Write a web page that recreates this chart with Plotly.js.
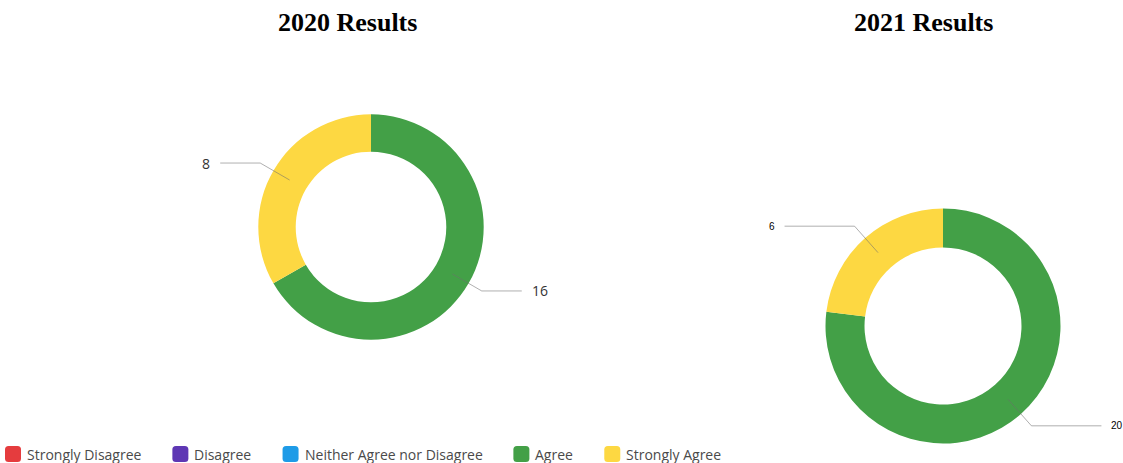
<!DOCTYPE html>
<html>
<head>
<meta charset="utf-8">
<script src="https://cdn.plot.ly/plotly-3.0.1.min.js"></script>
<style>
  html, body { margin: 0; padding: 0; background: #fff; }
  #chart { width: 1123px; height: 463px; }
</style>
</head>
<body>
<div id="chart"></div>
<script>
// ---- data ----
const categories = ["Strongly Disagree", "Disagree", "Neither Agree nor Disagree", "Agree", "Strongly Agree"];
const colors = ["#e53c3e", "#5e37b4", "#1e9be7", "#43a047", "#fdd842"];
const values2020 = [0, 0, 0, 16, 8];
const values2021 = [0, 0, 0, 20, 6];
const titles = ["2020 Results", "2021 Results"];

// ---- layout geometry (pixels) ----
const W = 1123, H = 463;
const hole = 0.668;
const pies = [
  { values: values2020, cx: 371, cy: 227, R: 112.7, title: titles[0], tx: 347, lineLen: 40, fontSize: 14, fontColor: "#333", fontFamily: "Open Sans, sans-serif" },
  { values: values2021, cx: 943, cy: 326, R: 117.5, title: titles[1], tx: 923, lineLen: 70, fontSize: 10, fontColor: "#000", fontFamily: "Liberation Sans, Arial, sans-serif" }
];
const px = x => x / W;
const py = y => 1 - y / H;

const data = [];
const shapes = [];
const annotations = [];

pies.forEach((p, i) => {
  data.push({
    type: "pie",
    labels: categories,
    values: p.values,
    marker: { colors: colors, line: { width: 0 } },
    hole: hole,
    sort: false,
    direction: "clockwise",
    rotation: 0,
    textinfo: "none",
    hoverinfo: "label+value",
    showlegend: false,
    domain: {
      x: [px(p.cx - p.R), px(p.cx + p.R)],
      y: [py(p.cy + p.R), py(p.cy - p.R)]
    }
  });

  // leader lines + value labels, derived from the data
  const total = p.values.reduce((a, b) => a + b, 0);
  let cum = 0;
  p.values.forEach(v => {
    if (v <= 0) return;
    const theta = 2 * Math.PI * (cum + v / 2) / total;
    cum += v;
    const dx = Math.sin(theta), dy = -Math.cos(theta);
    const r1 = p.R * (1 + hole) / 2, r2 = p.R * 1.135;
    const x1 = p.cx + dx * r1, y1 = p.cy + dy * r1;
    const x2 = p.cx + dx * r2, y2 = p.cy + dy * r2;
    const side = dx >= 0 ? 1 : -1;
    const x3 = x2 + side * p.lineLen;
    shapes.push({
      type: "path", xref: "paper", yref: "paper",
      path: `M${px(x1)},${py(y1)} L${px(x2)},${py(y2)} L${px(x3)},${py(y2)}`,
      line: { color: "rgba(110,110,110,0.55)", width: 1 }
    });
    annotations.push({
      xref: "paper", yref: "paper",
      x: px(x3 + side * 8), y: py(y2),
      xanchor: side > 0 ? "left" : "right", yanchor: "middle",
      text: String(v), showarrow: false,
      font: { size: p.fontSize, color: p.fontColor, family: p.fontFamily }
    });
  });

  annotations.push({
    xref: "paper", yref: "paper",
    x: px(p.tx), y: py(22), xanchor: "center", yanchor: "middle",
    text: "<b>" + p.title + "</b>", showarrow: false,
    font: { size: 26, color: "#000", family: "Liberation Serif, Times New Roman, serif" }
  });
});

// ---- legend (built from categories / colors) ----
const legendFont = { size: 14, color: "#4a4a4a", family: "Open Sans, sans-serif" };
const ctx = document.createElement("canvas").getContext("2d");
ctx.font = "14px 'Open Sans'";
let lx = 5;
const ly = 454, sq = 16, rr = 3.5;
categories.forEach((c, k) => {
  const x0 = lx, x1 = lx + sq, y0 = ly - sq / 2, y1 = ly + sq / 2;
  const P = (x, y) => `${px(x)},${py(y)}`;
  const path = `M${P(x0 + rr, y0)} L${P(x1 - rr, y0)} Q${P(x1, y0)} ${P(x1, y0 + rr)} L${P(x1, y1 - rr)} Q${P(x1, y1)} ${P(x1 - rr, y1)} L${P(x0 + rr, y1)} Q${P(x0, y1)} ${P(x0, y1 - rr)} L${P(x0, y0 + rr)} Q${P(x0, y0)} ${P(x0 + rr, y0)} Z`;
  shapes.push({ type: "path", xref: "paper", yref: "paper", path: path, fillcolor: colors[k], line: { width: 0 } });
  const tx = lx + 22;
  annotations.push({
    xref: "paper", yref: "paper", x: px(tx), y: py(ly), xanchor: "left", yanchor: "middle",
    text: c, showarrow: false, font: legendFont, xshift: -2
  });
  lx = tx + ctx.measureText(c).width + 31;
});

const layout = {
  width: W, height: H,
  margin: { l: 0, r: 0, t: 0, b: 0 },
  paper_bgcolor: "#fff",
  showlegend: false,
  shapes: shapes,
  annotations: annotations
};

Plotly.newPlot("chart", data, layout, { displayModeBar: false, staticPlot: true });
</script>
</body>
</html>
